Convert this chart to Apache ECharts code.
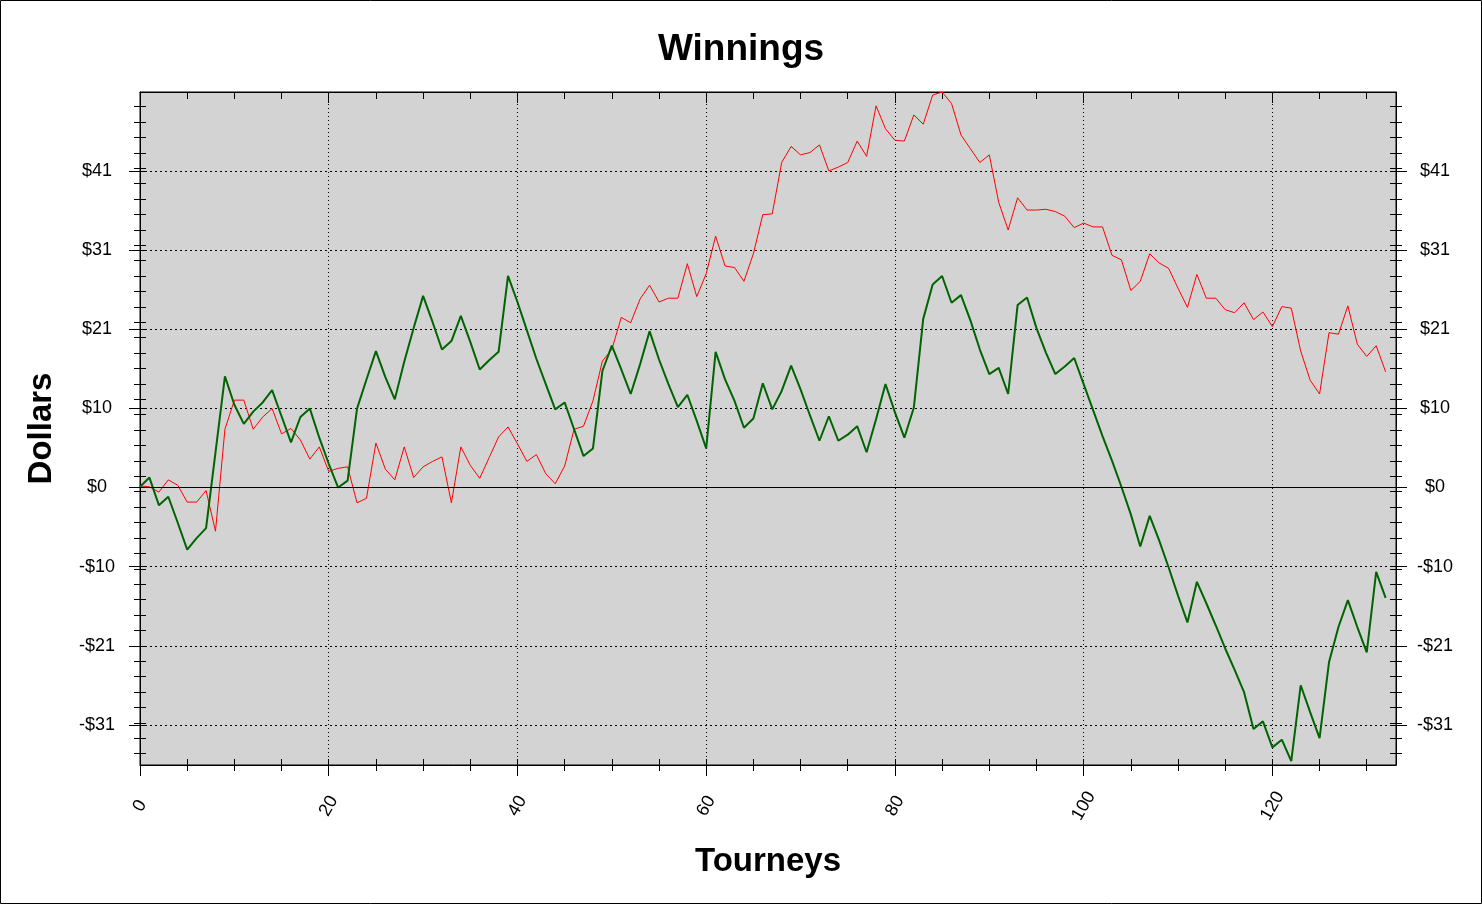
<!DOCTYPE html>
<html>
<head>
<meta charset="utf-8">
<script src="https://cdn.jsdelivr.net/npm/echarts@6/dist/echarts.min.js"></script>
<style>
html,body{margin:0;padding:0;background:#fff;}
#chart{width:1482px;height:904px;}
</style>
</head>
<body>
<div id="chart"></div>
<script>
// ---- data ----
const redValues = [
  0.2, 0.1, -0.6, 1.0, 0.3, -1.9, -1.9, -0.4, -5.7, 7.6,
  11.4, 11.4, 7.6, 9.2, 10.3, 7.0, 7.7, 6.2, 3.7, 5.3,
  2.1, 2.5, 2.7, -2.0, -1.4, 5.8, 2.4, 1.0, 5.3, 1.3,
  2.7, 3.4, 4.0, -2.0, 5.3, 2.9, 1.2, 3.9, 6.6, 7.9,
  5.7, 3.4, 4.3, 1.8, 0.5, 2.8, 7.6, 8.0, 11.3, 16.5,
  18.0, 22.2, 21.5, 24.6, 26.4, 24.2, 24.7, 24.7, 29.2, 24.9,
  27.9, 32.8, 28.9, 28.7, 26.9, 30.5, 35.6, 35.7, 42.4, 44.5,
  43.4, 43.7, 44.7, 41.3, 41.8, 42.4, 45.2, 43.2, 49.8, 46.8,
  45.3, 45.2, 48.6, 47.4, 51.2, 51.6, 50.1, 46.0, 44.2, 42.4,
  43.4, 37.2, 33.6, 37.8, 36.2, 36.2, 36.3, 36.0, 35.4, 33.9,
  34.5, 34.0, 34.0, 30.3, 29.7, 25.7, 26.9, 30.5, 29.3, 28.6,
  26.0, 23.5, 27.8, 24.7, 24.7, 23.2, 22.8, 24.1, 21.9, 22.9,
  21.0, 23.6, 23.4, 17.8, 14.0, 12.2, 20.2, 20.0, 23.7, 18.7,
  17.1, 18.5, 15.1
];
const greenValues = [
  0.1, 1.3, -2.3, -1.2, -4.6, -8.1, -6.6, -5.3, 4.6, 14.5,
  10.8, 8.3, 9.9, 11.1, 12.7, 9.3, 5.9, 9.2, 10.3, 6.5,
  3.1, 0.0, 0.9, 10.3, 14.1, 17.8, 14.4, 11.5, 16.4, 20.8,
  25.0, 21.6, 18.0, 19.1, 22.4, 19.0, 15.4, 16.6, 17.7, 27.6,
  24.2, 20.5, 16.8, 13.5, 10.2, 11.1, 7.6, 4.1, 5.1, 15.2,
  18.5, 15.4, 12.2, 16.1, 20.4, 16.7, 13.5, 10.5, 12.1, 8.7,
  5.1, 17.7, 14.1, 11.3, 7.8, 9.0, 13.6, 10.2, 12.6, 15.9,
  12.8, 9.4, 6.1, 9.3, 6.1, 6.9, 8.0, 4.6, 8.9, 13.5,
  9.8, 6.5, 10.4, 22.0, 26.5, 27.6, 24.1, 25.1, 21.8, 18.0,
  14.8, 15.6, 12.2, 23.8, 24.8, 20.8, 17.6, 14.8, 15.8, 16.9,
  13.5, 10.1, 6.7, 3.5, 0.1, -3.5, -7.7, -3.7, -6.9, -10.4,
  -14.1, -17.6, -12.3, -15.1, -18.0, -21.0, -23.8, -26.7, -31.5, -30.5,
  -33.9, -32.9, -35.7, -25.8, -29.3, -32.7, -22.8, -18.2, -14.7, -18.2,
  -21.5, -11.0, -14.4
];
const xTickValues = [0, 20, 40, 60, 80, 100, 120];
const xTickLabels = ['0', '20', '40', '60', '80', '100', '120'];
const xMinorTickValues = [];
for (let v = 0; v <= 130; v += 5) xMinorTickValues.push(v);
const yTickValues = [-30.99, -20.66, -10.33, 0, 10.33, 20.66, 30.99, 41.32];
const yTickLabels = ['-$31', '-$21', '-$10', '$0', '$10', '$21', '$31', '$41'];
const yMinorTickValues = [];
for (let k = 0; k <= 42; k++) yMinorTickValues.push(+(49.7 - 2.01 * k).toFixed(2));
const yAllTickValues = yTickValues.concat(yMinorTickValues);
const xMin = 0, xMax = 133.1;
const yMin = -36.2, yMax = 51.6;

// ---- chart ----
const FONT = 'Liberation Sans, Arial, Helvetica, sans-serif';
const chart = echarts.init(document.getElementById('chart'), null, {renderer: 'canvas'});

function labelFor(values, labels) {
  return function (v) {
    let best = 0, bd = Infinity;
    values.forEach((t, i) => { const d = Math.abs(t - v); if (d < bd) { bd = d; best = i; } });
    return labels[best];
  };
}

function blankAxis(extra) {
  return Object.assign({
    type: 'value',
    axisLine: {show: false, onZero: false},
    axisLabel: {show: false},
    splitLine: {show: false},
    minorTick: {show: false},
    axisTick: {show: false}
  }, extra);
}

function tickAxisX(position, values, inside, length, showLine) {
  return blankAxis({
    position: position, min: xMin, max: xMax,
    axisLine: {show: !!showLine, onZero: false, lineStyle: {color: '#000', width: 1}},
    axisTick: {show: true, inside: inside, length: length, customValues: values,
               lineStyle: {color: '#000', width: 1}}
  });
}
function tickAxisY(position, values, inside, length) {
  return blankAxis({
    position: position, min: yMin, max: yMax,
    axisLine: {show: false, onZero: false},
    axisTick: {show: true, inside: inside, length: length, customValues: values,
               lineStyle: {color: '#000', width: 1}}
  });
}

const option = {
  animation: false,
  backgroundColor: '#ffffff',
  textStyle: {fontFamily: FONT},
  title: {
    text: 'Winnings',
    left: 'center',
    top: 26,
    textStyle: {fontFamily: FONT, fontSize: 37, fontWeight: 'bold', color: '#000'}
  },
  grid: {
    left: 140, right: 86, top: 92, bottom: 139,
    show: true, backgroundColor: '#d3d3d3', borderColor: '#000', borderWidth: 1
  },
  xAxis: [
    {
      type: 'value', position: 'bottom', min: xMin, max: xMax,
      axisLine: {show: true, onZero: false, lineStyle: {color: '#000', width: 1}},
      axisTick: {show: true, length: 11, customValues: xTickValues, lineStyle: {color: '#000'}},
      axisLabel: {
        customValues: xTickValues, formatter: labelFor(xTickValues, xTickLabels),
        rotate: 60, align: 'center', verticalAlign: 'middle', margin: 41,
        fontSize: 18, color: '#000', fontFamily: FONT
      },
      splitLine: {show: true, lineStyle: {color: '#000', width: 1, type: [1, 3]}},
      name: 'Tourneys', nameLocation: 'middle', nameGap: 80,
      nameTextStyle: {fontFamily: FONT, fontSize: 33, fontWeight: 'bold', color: '#000'}
    },
    tickAxisX('bottom', xMinorTickValues, false, 6),
    tickAxisX('bottom', xMinorTickValues, true, 6),
    tickAxisX('top', xTickValues, true, 11, true),
    tickAxisX('top', xMinorTickValues, true, 7)
  ],
  yAxis: [
    {
      type: 'value', position: 'left', min: yMin, max: yMax,
      axisLine: {show: true, onZero: false, lineStyle: {color: '#000', width: 1}},
      axisTick: {show: true, length: 11, customValues: yTickValues, lineStyle: {color: '#000'}},
      axisLabel: {
        customValues: yTickValues, formatter: labelFor(yTickValues, yTickLabels),
        align: 'center', margin: 43, fontSize: 18, color: '#000', fontFamily: FONT
      },
      splitLine: {show: true, lineStyle: {color: '#000', width: 1, type: [2, 3]}},
      name: 'Dollars', nameLocation: 'middle', nameGap: 82, nameRotate: 90,
      nameTextStyle: {fontFamily: FONT, fontSize: 33, fontWeight: 'bold', color: '#000'}
    },
    tickAxisY('left', yMinorTickValues, false, 6),
    tickAxisY('left', yAllTickValues, true, 6),
    {
      type: 'value', position: 'right', min: yMin, max: yMax,
      axisLine: {show: true, onZero: false, lineStyle: {color: '#000', width: 1}},
      axisTick: {show: true, length: 11, customValues: yTickValues, lineStyle: {color: '#000'}},
      axisLabel: {
        customValues: yTickValues, formatter: labelFor(yTickValues, yTickLabels),
        align: 'center', margin: 39, fontSize: 18, color: '#000', fontFamily: FONT
      },
      splitLine: {show: false}
    },
    tickAxisY('right', yMinorTickValues, false, 6),
    tickAxisY('right', yAllTickValues, true, 6)
  ],
  series: [
    {
      name: 'Red', type: 'line', xAxisIndex: 0, yAxisIndex: 0,
      data: redValues.map((v, i) => [i, v]),
      showSymbol: false, symbol: 'none',
      lineStyle: {color: '#ff0000', width: 1},
      itemStyle: {color: '#ff0000'},
      z: 3,
      markLine: {
        silent: true, symbol: ['none', 'none'], label: {show: false},
        lineStyle: {color: '#000', width: 1, type: 'solid'},
        data: [{yAxis: 0}]
      }
    },
    {
      name: 'Green', type: 'line', xAxisIndex: 0, yAxisIndex: 0,
      data: greenValues.map((v, i) => [i, v]),
      showSymbol: false, symbol: 'none',
      lineStyle: {color: '#006400', width: 2},
      itemStyle: {color: '#006400'},
      z: 4
    }
  ],
  graphic: [{
    type: 'rect', silent: true, z: 100,
    shape: {x: 0.5, y: 0.5, width: 1481, height: 903},
    style: {fill: null, stroke: '#000', lineWidth: 1}
  }]
};
chart.setOption(option);
</script>
</body>
</html>
